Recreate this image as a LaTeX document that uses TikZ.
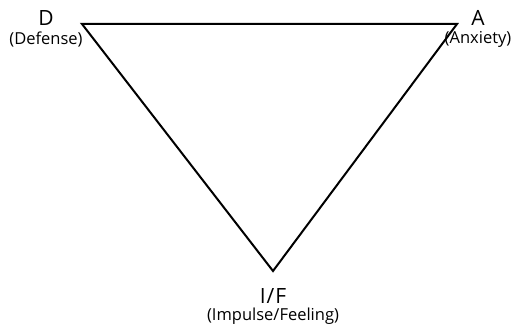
\documentclass[tikz,border=0pt]{standalone}
\usepackage{fontspec}
\setmainfont{Open Sans}
\begin{document}
\begin{tikzpicture}[x=1pt,y=-1pt,
  big/.style={font=\fontsize{21}{21}\selectfont, inner sep=0pt},
  small/.style={font=\fontsize{16.5}{17}\selectfont, inner sep=0pt}]
\useasboundingbox (0,0) rectangle (522,326);
\coordinate (d) at (82,24);
\coordinate (a) at (457,24);
\coordinate (f) at (273,271);
\draw[line width=2pt, line join=miter] (d) -- (a) -- (f) -- cycle;
\node[big] (dl) at (46,18) {D};
\node[small] (ds) at (46,39) {(Defense)};
\node[big] (al) at (478,18) {A};
\node[small] (as) at (478,39) {(Anxiety)};
\node[big] (fl) at (273,296) {I\kern1pt/\kern1ptF};
\node[small] (fs) at (273,316) {(Impulse/Feeling)};
\end{tikzpicture}
\end{document}
